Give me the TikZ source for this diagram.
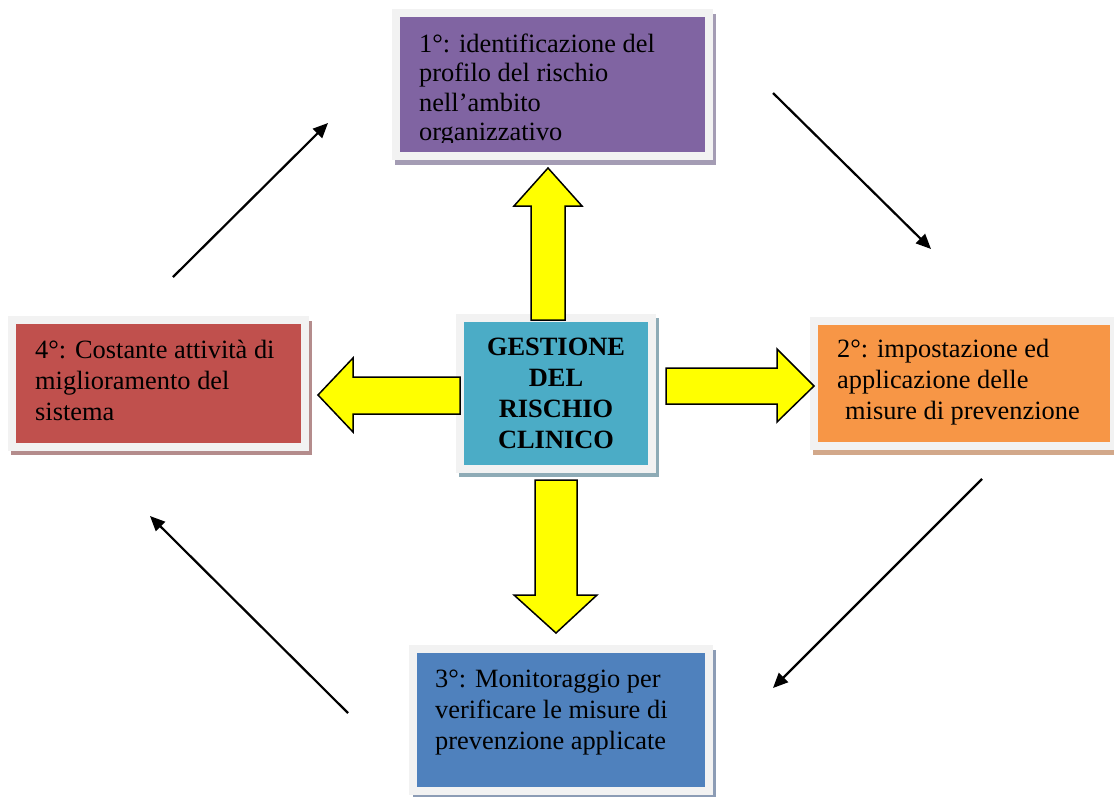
\documentclass[tikz,border=0pt]{standalone}
\usepackage{fontspec}
\setmainfont{Liberation Serif}
\usetikzlibrary{arrows.meta}
\definecolor{cP}{HTML}{8064A2}
\definecolor{cT}{HTML}{4BACC6}
\definecolor{cR}{HTML}{C0504D}
\definecolor{cO}{HTML}{F79646}
\definecolor{cB}{HTML}{4F81BD}
\definecolor{frameC}{HTML}{F2F2F2}
\definecolor{shP}{HTML}{A49CB4}
\definecolor{shT}{HTML}{8EABB6}
\definecolor{shR}{HTML}{B48C8C}
\definecolor{shO}{HTML}{D2A88A}
\definecolor{shB}{HTML}{8C9CB5}
\definecolor{yel}{HTML}{FFFF00}
\tikzset{
  box/.style={draw=frameC, line width=8pt, inner sep=0pt},
  boxtext/.style={anchor=base west, inner sep=0pt, font=\fontsize{26.4}{31}\selectfont},
  blockarrow/.style={fill=yel, draw=black, line width=1.5pt, line join=miter},
  flow/.style={line width=2.2pt, -{Triangle[length=15pt,width=13pt]}}
}
\begin{document}
\begin{tikzpicture}[x=1pt,y=-1pt]
\fill[white] (0,0) rectangle (1114,796);
\useasboundingbox (0,0) rectangle (1114,796);
% shadows
\fill[shP] (395,14) rectangle (716,165);
\fill[shT] (459,318) rectangle (659,477);
\fill[shR] (11,321) rectangle (312,455);
\fill[shO] (813,322) rectangle (1118,455);
\fill[shB] (413,650) rectangle (716,800);
% boxes
\node[box, fill=cP, minimum width=313pt, minimum height=143pt] (b1) at (552.5,84.5) {};
\node[box, fill=cT, minimum width=192pt, minimum height=151pt] (c) at (556,393.5) {};
\node[box, fill=cR, minimum width=293pt, minimum height=127pt] (b4) at (158.5,383.5) {};
\node[box, fill=cO, minimum width=300pt, minimum height=125pt] (b2) at (964,383.5) {};
\node[box, fill=cB, minimum width=296pt, minimum height=142pt] (b3) at (561,720) {};
% texts
\begin{scope}
\clip (400,17) rectangle (705,142.5);
\node[boxtext, font=\fontsize{26.4}{29.5}\selectfont] (t1) at (419,52) {\parbox[t]{280pt}{\raggedright 1°: identificazione del\\profilo del rischio\\nell’ambito\\organizzativo}};
\end{scope}
\node[boxtext] (t4) at (35,358) {\parbox[t]{265pt}{\raggedright 4°: Costante attività di\\miglioramento del\\sistema}};
\node[boxtext] (t2) at (837,357) {\parbox[t]{270pt}{\raggedright 2°: impostazione ed\\applicazione delle\\\hspace*{0.3em}misure di prevenzione}};
\node[boxtext] (t3) at (435,687) {\parbox[t]{270pt}{\raggedright 3°: Monitoraggio per\\verificare le misure di\\prevenzione applicate}};
\node[anchor=base, inner sep=0pt, font=\bfseries\fontsize{26.4}{31}\selectfont] (tc) at (556,355) {\parbox[t]{180pt}{\centering GESTIONE\\DEL\\RISCHIO\\CLINICO}};
% yellow block arrows
\draw[blockarrow] (531,320) -- (531,206) -- (514,206) -- (548,168) -- (582,206) -- (565,206) -- (565,320) -- cycle;
\draw[blockarrow] (666,368) -- (777,368) -- (777,349) -- (814,386) -- (777,422) -- (777,404) -- (666,404) -- cycle;
\draw[blockarrow] (535,480) -- (577,480) -- (577,595) -- (597,595) -- (556,633) -- (514,595) -- (535,595) -- cycle;
\draw[blockarrow] (460,377) -- (353,377) -- (353,358) -- (318,395) -- (353,432) -- (353,414) -- (460,414) -- cycle;
% cycle arrows
\coordinate (a1s) at (173,277); \coordinate (a1e) at (328,123);
\coordinate (a2s) at (773,93);  \coordinate (a2e) at (931,249);
\coordinate (a3s) at (982,479); \coordinate (a3e) at (773,688);
\coordinate (a4s) at (348,713); \coordinate (a4e) at (150,516);
\draw[flow] (a1s) -- (a1e);
\draw[flow] (a2s) -- (a2e);
\draw[flow] (a3s) -- (a3e);
\draw[flow] (a4s) -- (a4e);
\end{tikzpicture}
\end{document}
